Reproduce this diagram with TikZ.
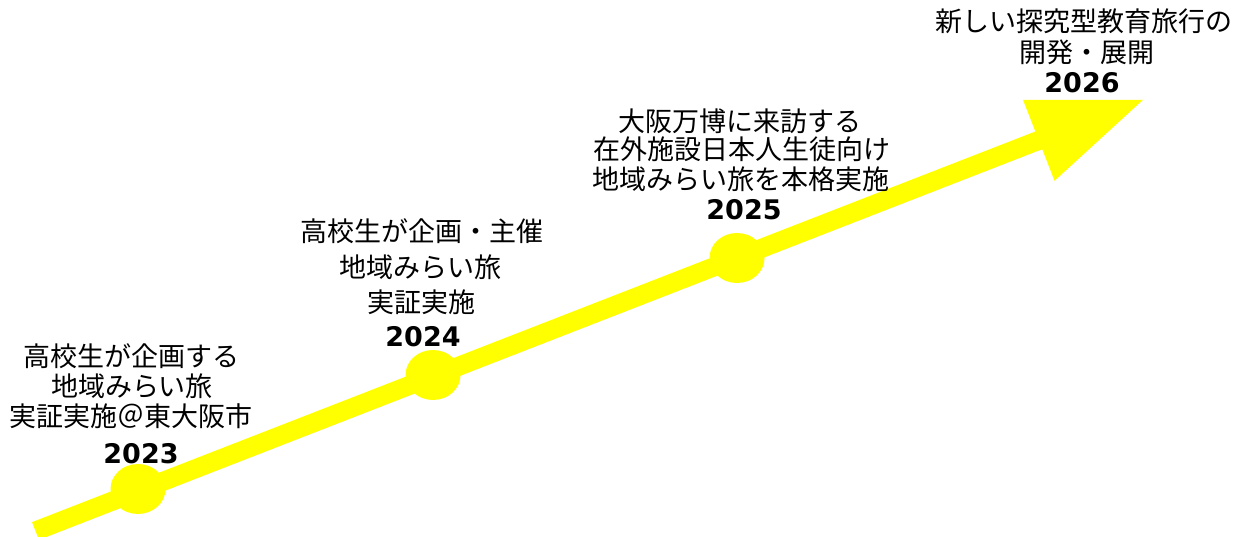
\documentclass[tikz,border=0pt]{standalone}
\usepackage{fontspec}
\setmainfont{DejaVu Sans}
\newfontfamily\jpfont{Noto Sans CJK JP}
\usetikzlibrary{arrows.meta,shapes.geometric}
\definecolor{tlyellow}{RGB}{255,255,0}
\begin{document}
\begin{tikzpicture}[x=1pt,y=-1pt,
  jp/.style={font=\jpfont\fontsize{27}{30}\selectfont, anchor=base, inner sep=0pt, text=black},
  yr/.style={font=\bfseries\fontsize{27}{30}\selectfont, anchor=base, inner sep=0pt, text=black},
  dot/.style={ellipse, fill=tlyellow, minimum width=55pt, minimum height=50pt, inner sep=0pt},
  timeline/.style={draw=tlyellow, line width=19pt, -{Triangle[length=114pt,width=81pt]}}]
\useasboundingbox (0,0) rectangle (1243,537);
\coordinate (start) at (35.5,531);
\coordinate (end) at (1145,99);
\draw[timeline] (start) -- (end);
\node[dot] (d23) at (138,489) {};
\node[dot] (d24) at (433,375) {};
\node[dot] (d25) at (737,258) {};
% 2023
\node[jp] (t23a) at (131.5,367) {高校生が企画する};
\node[jp] (t23b) at (132,397) {地域みらい旅};
\node[jp] (t23c) at (131,427) {実証実施＠東大阪市};
\node[yr] (y23) at (141,463) {2023};
% 2024
\node[jp] (t24a) at (422,242) {高校生が企画・主催};
\node[jp] (t24b) at (420,278) {地域みらい旅};
\node[jp] (t24c) at (421,313) {実証実施};
\node[yr] (y24) at (423,347) {2024};
% 2025
\node[jp] (t25a) at (740,132) {大阪万博に来訪する};
\node[jp] (t25b) at (741.5,160) {在外施設日本人生徒向け};
\node[jp] (t25c) at (741,190) {地域みらい旅を本格実施};
\node[yr] (y25) at (744,220) {2025};
% 2026
\node[jp] (t26a) at (1084,32) {新しい探究型教育旅行の};
\node[jp] (t26b) at (1087,63) {開発・展開};
\node[yr] (y26) at (1082,93) {2026};
\end{tikzpicture}
\end{document}
